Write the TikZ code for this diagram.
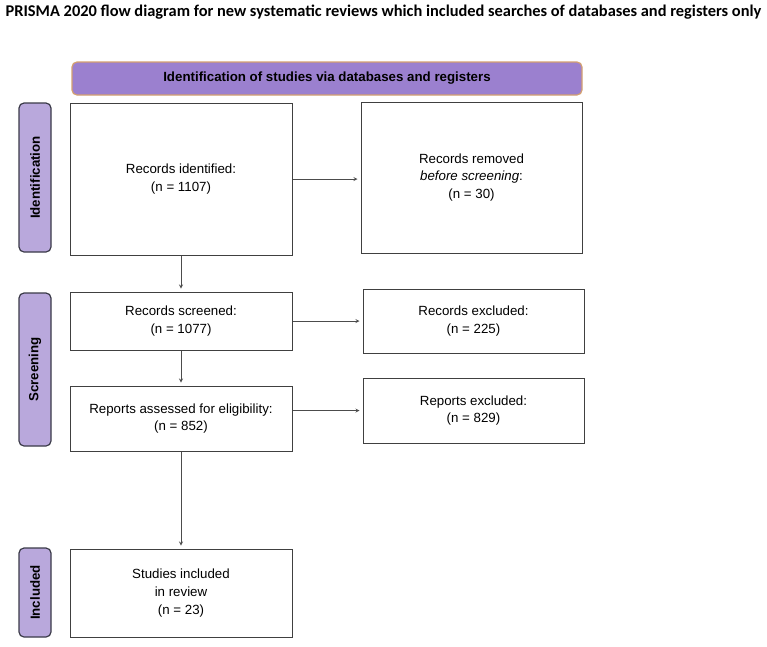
\documentclass[tikz,border=0pt]{standalone}
\usepackage{fontspec}
\setmainfont{Liberation Sans}
\newfontfamily\titlefont{Carlito}
\usepackage{xcolor}
\usepackage{tikz}
\usetikzlibrary{shapes.geometric, arrows}
\definecolor{headfill}{HTML}{9B80CF}
\definecolor{headline}{HTML}{D4A070}
\definecolor{sidefill}{HTML}{B9A8DC}
\definecolor{sideline}{HTML}{3A3A48}
\tikzstyle{box} = [rectangle, minimum width=222pt, text centered, align=center, draw=black!75, line width=1pt, fill=white, font=\fontsize{13.3}{17.7}\selectfont]
\tikzstyle{side} = [rectangle, rounded corners=5pt, minimum height=32pt, draw=sideline, line width=1.2pt, fill=sidefill, font=\bfseries\fontsize{13.3}{16}\selectfont, rotate=90]
\tikzstyle{head} = [rectangle, rounded corners=5pt, minimum width=510pt, minimum height=33pt, draw=headline, line width=1.2pt, fill=headfill, font=\bfseries\fontsize{13.3}{16}\selectfont]
\tikzstyle{arrow} = [draw=black!70, line width=0.8pt, ->, >=stealth, shorten >=3pt]

\begin{document}
\begin{tikzpicture}[x=1pt, y=-1pt]
\useasboundingbox (0,0) rectangle (767,646);

\node (title) at (383.5,12) {\titlefont\bfseries\fontsize{16.4}{18}\selectfont PRISMA 2020 flow diagram for new systematic reviews which included searches of databases and registers only};

\node (hd) [head] at (327,78.5) {Identification of studies via databases and registers};

\node (s1) [side, minimum width=149pt] at (35,177.5) {Identification};
\node (s2) [side, minimum width=153pt] at (35,369.5) {Screening};
\node (s3) [side, minimum width=89pt] at (35,592.5) {Included};

\node (ident) [box, minimum height=152pt] at (181,179) {Records identified:\\(n = 1107)};
\node (remov) [box, minimum width=221pt, minimum height=151pt] at (471.5,177.5) {Records removed\\\textit{before screening}:\\(n = 30)};

\node (scr) [box, minimum height=58pt] at (181,321) {Records screened:\\(n = 1077)};
\node (excl) [box, minimum width=221pt, minimum height=64pt] at (473.5,321) {Records excluded:\\(n = 225)};

\node (elig) [box, minimum height=65pt] at (181,418.5) {Reports assessed for eligibility:\\(n = 852)};
\node (rexcl) [box, minimum width=221pt, minimum height=65pt] at (473.5,410.5) {Reports excluded:\\(n = 829)};

\node (incl) [box, minimum height=88pt] at (181,593) {Studies included\\in review\\(n = 23)};

\draw [arrow] (ident) -- (scr);
\draw [arrow] (scr) -- (elig);
\draw [arrow] (elig) -- (incl);

\draw [arrow] (ident) -- (ident -| remov.west);
\draw [arrow] (scr) -- (excl);
\draw [arrow] (elig.east |- rexcl) -- (rexcl);

\end{tikzpicture}
\end{document}
